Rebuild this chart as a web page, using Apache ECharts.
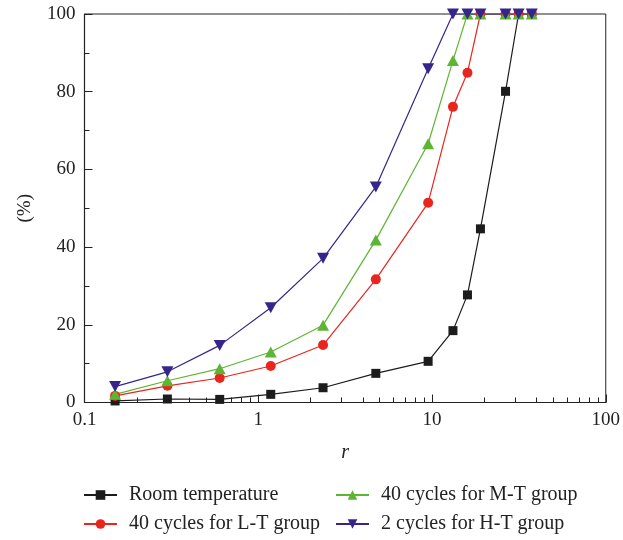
<!DOCTYPE html>
<html>
<head>
<meta charset="utf-8">
<script src="https://cdn.jsdelivr.net/npm/echarts@6/dist/echarts.min.js"></script>
<style>
  html, body { margin: 0; padding: 0; background: #fff; }
  #chart { width: 623px; height: 540px; }
</style>
</head>
<body>
<div id="chart"></div>
<script>
// sieve size r (shared by all series)
var sizes = [0.15, 0.3, 0.6, 1.18, 2.36, 4.75, 9.5, 13.2, 16, 19, 26.5, 31.5, 37.5];

var roomTemp = [0.4, 0.9, 0.8, 2.1, 3.8, 7.5, 10.6, 18.5, 27.7, 44.7, 80.1, 100, 100];
var ltGroup  = [1.7, 4.3, 6.3, 9.4, 14.8, 31.7, 51.4, 76.1, 84.9, 100, 100, 100, 100];
var mtGroup  = [2.1, 5.6, 8.7, 13.0, 19.9, 41.8, 66.6, 88.0, 100, 100, 100, 100, 100];
var htGroup  = [4.1, 7.9, 14.7, 24.4, 37.1, 55.5, 85.9, 100, 100, 100, 100, 100, 100];

var minorXTicks = [0.2, 0.3, 0.4, 0.5, 0.6, 0.7, 0.8, 0.9,
                   2, 3, 4, 5, 6, 7, 8, 9,
                   20, 30, 40, 50, 60, 70, 80, 90];

var names = ['Room temperature', '40 cycles for L-T group', '40 cycles for M-T group', '2 cycles for H-T group'];

var font = 'Liberation Serif';
var axisColor = '#222';

function pairs(ys) {
  return sizes.map(function (x, i) { return [x, ys[i]]; });
}

function makeSeries(name, ys, color, symbol, size, rotate) {
  return {
    name: name,
    type: 'line',
    data: pairs(ys),
    symbol: symbol,
    symbolSize: size,
    symbolRotate: rotate || 0,
    showAllSymbol: true,
    lineStyle: { color: color, width: 1.2 },
    itemStyle: { color: color, opacity: 1 },
    emphasis: { disabled: true },
    z: 3
  };
}

var chart = echarts.init(document.getElementById('chart'), null, { renderer: 'canvas' });

var legendText = { fontFamily: font, fontSize: 20, color: '#222', padding: [0, 0, 0, 7] };

var option = {
  backgroundColor: '#fff',
  animation: false,
  textStyle: { fontFamily: font },
  grid: {
    left: 84.5, right: 13.5, top: 14, bottom: 137.5,
    show: true, borderColor: axisColor, borderWidth: 1
  },
  legend: [{
    data: [names[0], names[1]],
    orient: 'vertical',
    left: 83, top: 485, padding: 0,
    itemWidth: 33, itemHeight: 12, itemGap: 9,
    textStyle: legendText
  }, {
    data: [names[2], names[3]],
    orient: 'vertical',
    left: 335, top: 485, padding: 0,
    itemWidth: 33, itemHeight: 12, itemGap: 9,
    textStyle: legendText
  }],
  xAxis: [{
    type: 'log',
    logBase: 10,
    min: 0.1, max: 100,
    name: 'r',
    nameLocation: 'middle',
    nameGap: 40,
    nameTextStyle: { fontFamily: font, fontSize: 20, fontStyle: 'italic', color: '#222' },
    axisLine: { lineStyle: { color: axisColor, width: 1.2 } },
    axisTick: { inside: true, length: 8, lineStyle: { color: axisColor } },
    axisLabel: {
      margin: 8, fontFamily: font, fontSize: 19, color: '#222',
      formatter: function (v) { return String(v); }
    },
    splitLine: { show: false }
  }, {
    type: 'log',
    logBase: 10,
    min: 0.1, max: 100,
    position: 'bottom',
    axisLine: { show: false },
    axisTick: { inside: true, length: 5, customValues: minorXTicks, lineStyle: { color: axisColor } },
    axisLabel: { show: false },
    splitLine: { show: false }
  }],
  yAxis: {
    type: 'value',
    min: 0, max: 100, interval: 20,
    name: '(%)',
    nameLocation: 'middle',
    nameGap: 50,
    nameRotate: 90,
    nameTextStyle: { fontFamily: font, fontSize: 19, color: '#222' },
    axisLine: { show: true, lineStyle: { color: axisColor, width: 1.2 } },
    axisTick: { show: true, inside: true, length: 8, lineStyle: { color: axisColor } },
    minorTick: { show: true, splitNumber: 2, length: 5, lineStyle: { color: axisColor } },
    axisLabel: { margin: 9, fontFamily: font, fontSize: 19, color: '#222' },
    splitLine: { show: false }
  },
  series: [
    makeSeries(names[0], roomTemp, '#1c1c1c', 'rect', 9),
    makeSeries(names[1], ltGroup, '#e8261e', 'circle', 10),
    makeSeries(names[2], mtGroup, '#5cb533', 'triangle', [12, 11]),
    makeSeries(names[3], htGroup, '#36268c', 'triangle', [12, 11], 180)
  ]
};

chart.setOption(option);
</script>
</body>
</html>
